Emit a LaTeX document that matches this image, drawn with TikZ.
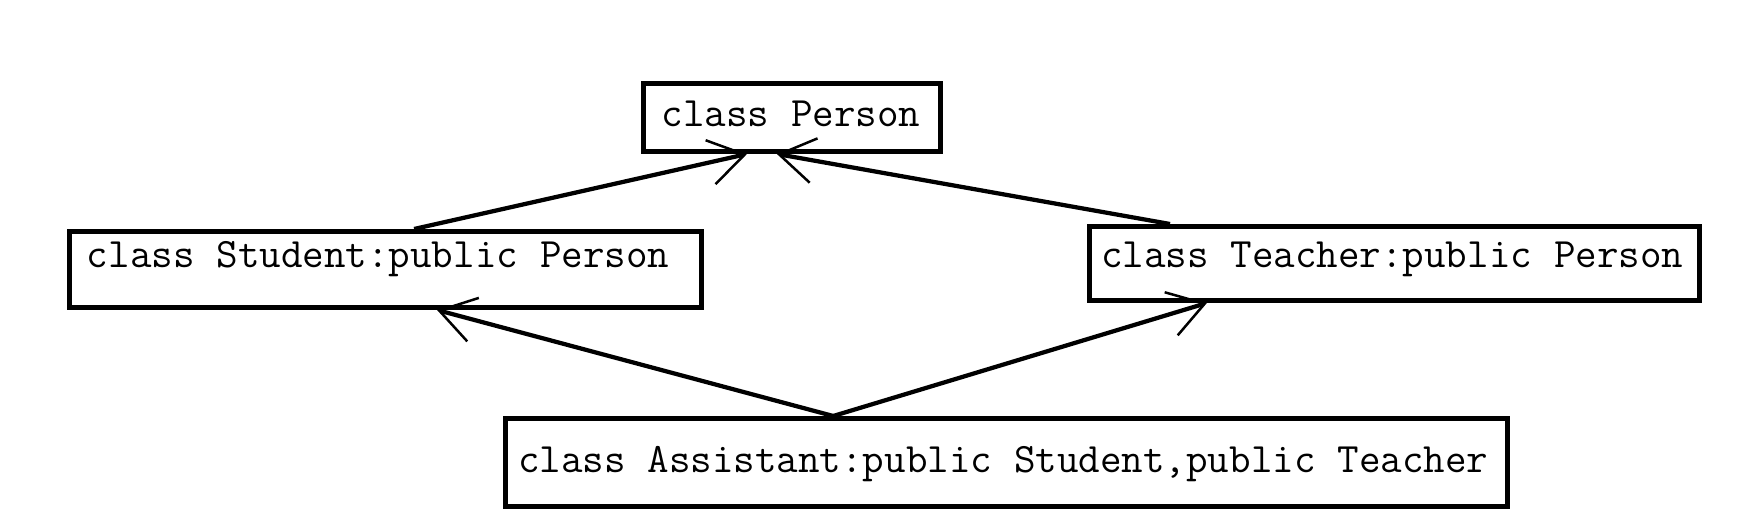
\documentclass[tikz,border=0pt]{standalone}
\usepackage{fontspec}
\usepackage{tikz}
\usetikzlibrary{calc, arrows.meta}

\tikzset{
    cls/.style={draw, line width=0.1cm, anchor=north west, inner ysep=0pt, align=left,
        font=\ttfamily\fontsize{23.8pt}{28pt}\selectfont,
        execute at begin node={\spaceskip=0.525em\relax}},
    inh/.style={line width=0.085cm, -{Straight Barb[length=0.7cm, width=0.9cm, line width=0.05cm]}}
}

\begin{document}
\begin{tikzpicture}[x=0.02cm, y=-0.02cm]
            \useasboundingbox (0,0) rectangle (1754,524);
    
            \node[cls, inner xsep=0.36cm, text width=5.22cm, text height=0.87cm, text depth=0.49cm] (person) at (641,81) {class Person};
            \node[cls, inner xsep=0.35cm, text width=11.94cm, text height=0.73cm, text depth=0.79cm] (student) at (67,229) {class Student:public Person};
            \node[cls, inner xsep=0.23cm, text width=11.74cm, text height=0.83cm, text depth=0.65cm] (teacher) at (1087,224) {class Teacher:public Person};
            \node[cls, inner xsep=0.25cm, text width=19.54cm, text height=1.09cm, text depth=0.67cm] (assistant) at (503,416) {class Assistant:public Student,public Teacher};
    
            \draw[inh] ($(student.north west)!0.545!(student.north east)$) -- ($(person.south west)!0.351!(person.south east)$);
            \draw[inh] ($(teacher.north west)!0.135!(teacher.north east)$) -- ($(person.south west)!0.45!(person.south east)$);
            \draw[inh] ($(assistant.north west)!0.328!(assistant.north east)$) -- ($(student.south west)!0.581!(student.south east)$);
            \draw[inh] ($(assistant.north west)!0.328!(assistant.north east)$) -- ($(teacher.south west)!0.195!(teacher.south east)$);
        \end{tikzpicture}
\end{document}
